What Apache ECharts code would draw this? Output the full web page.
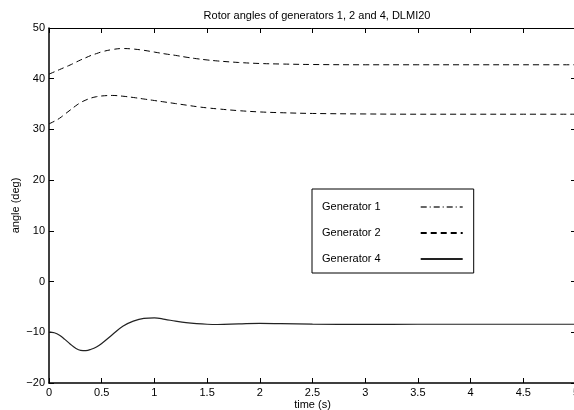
<!DOCTYPE html>
<html>
<head>
<meta charset="utf-8">
<script src="https://cdn.jsdelivr.net/npm/echarts@6/dist/echarts.min.js"></script>
<style>html,body{margin:0;padding:0;background:#fff;}#c{width:574px;height:410px;}</style>
</head>
<body>
<div id="c"></div>
<script>
var titleText = 'Rotor angles of generators 1, 2 and 4, DLMI20';
var xTicks = [0, 0.5, 1, 1.5, 2, 2.5, 3, 3.5, 4, 4.5, 5];
var yTicks = [-20, -10, 0, 10, 20, 30, 40, 50];
var time = [0, 0.05, 0.1, 0.15, 0.2, 0.25, 0.3, 0.35, 0.4, 0.45, 0.5, 0.6, 0.7, 0.8, 0.9, 1.0, 1.1, 1.2, 1.3, 1.4, 1.5, 1.6, 1.8, 2.0, 2.2, 2.5, 3, 3.5, 4, 4.5, 5];
var genUpper = [40.9, 41.35, 41.8, 42.25, 42.7, 43.2, 43.7, 44.15, 44.6, 44.95, 45.3, 45.75, 45.95, 45.85, 45.6, 45.25, 44.9, 44.6, 44.25, 43.95, 43.7, 43.5, 43.2, 43.0, 42.9, 42.8, 42.75, 42.75, 42.75, 42.75, 42.75];
var genLower = [31.1, 31.6, 32.2, 33.0, 33.8, 34.6, 35.3, 35.8, 36.2, 36.45, 36.6, 36.7, 36.55, 36.3, 36.0, 35.7, 35.4, 35.1, 34.8, 34.5, 34.25, 34.05, 33.7, 33.45, 33.3, 33.15, 33.05, 33.0, 33.0, 33.0, 33.0];
var gen4 = [-9.9, -10.1, -10.6, -11.4, -12.3, -13.1, -13.55, -13.6, -13.35, -12.9, -12.2, -10.5, -8.8, -7.8, -7.25, -7.15, -7.45, -7.8, -8.1, -8.3, -8.42, -8.46, -8.35, -8.25, -8.3, -8.4, -8.45, -8.42, -8.42, -8.42, -8.42];
var legendNames = ['Generator 1', 'Generator 2', 'Generator 4'];

function pairs(xs, ys) { return xs.map(function (x, i) { return [x, ys[i]]; }); }
var FONT = 'Liberation Sans';
function fmt(v) { return String(v).replace('-', '\u2212'); }

var chart = echarts.init(document.getElementById('c'), null, {renderer: 'canvas'});
var axisLine = {show: true, onZero: false, lineStyle: {color: '#000', width: 1.5}};
var axisLineThin = {show: true, onZero: false, lineStyle: {color: '#000', width: 1}};
var tick = {show: true, inside: true, length: 5, lineStyle: {color: '#000', width: 1}};
chart.setOption({
  animation: false,
  backgroundColor: '#fff',
  title: {
    text: titleText, left: 312, top: 5, textAlign: 'center',
    textStyle: {fontFamily: FONT, fontSize: 11, fontWeight: 'normal', color: '#000'}
  },
  grid: {left: 49, top: 28, width: 527, height: 355, containLabel: false, outerBoundsMode: 'none'},
  legend: {
    data: legendNames,
    orient: 'vertical', left: 312, top: 189, align: 'right',
    padding: [11, 10, 7, 10], itemGap: 12, itemWidth: 42, itemHeight: 14,
    backgroundColor: '#fff', borderColor: '#000', borderWidth: 1,
    itemStyle: {opacity: 0},
    textStyle: {fontFamily: FONT, fontSize: 11, color: '#000', padding: [0, 35, 0, 0], lineHeight: 14}
  },
  xAxis: [{
    type: 'value', min: xTicks[0], max: xTicks[xTicks.length - 1], interval: 0.5,
    position: 'bottom', axisLine: axisLine, axisTick: tick, splitLine: {show: false},
    axisLabel: {color: '#000', fontFamily: FONT, fontSize: 11, margin: 4, formatter: fmt},
    name: 'time (s)', nameLocation: 'middle', nameGap: 16, nameMoveOverlap: false,
    nameTextStyle: {fontFamily: FONT, fontSize: 11, color: '#000'}
  }, {
    type: 'value', min: xTicks[0], max: xTicks[xTicks.length - 1], interval: 0.5,
    position: 'top', axisLine: axisLineThin, axisTick: tick, splitLine: {show: false},
    axisLabel: {show: false}
  }],
  yAxis: [{
    type: 'value', min: yTicks[0], max: yTicks[yTicks.length - 1], interval: 10,
    position: 'left', axisLine: axisLine, axisTick: tick, splitLine: {show: false},
    axisLabel: {color: '#000', fontFamily: FONT, fontSize: 11, margin: 4, formatter: fmt},
    name: 'angle (deg)', nameLocation: 'middle', nameGap: 28, nameMoveOverlap: false,
    nameTextStyle: {fontFamily: FONT, fontSize: 11, color: '#000'}
  }, {
    type: 'value', min: yTicks[0], max: yTicks[yTicks.length - 1], interval: 10,
    position: 'right', axisLine: axisLineThin, axisTick: tick, splitLine: {show: false},
    axisLabel: {show: false}
  }],
  series: [
    {name: legendNames[0], type: 'line', data: [], symbol: 'none', lineStyle: {color: '#666', width: 1, type: [6, 3, 1, 3]}, itemStyle: {color: '#666'}},
    {name: legendNames[1], type: 'line', data: pairs(time, genUpper), smooth: 0.4, symbol: 'none', lineStyle: {color: '#000', width: 1, type: [6, 4]}, itemStyle: {color: '#000'}},
    {name: legendNames[1], type: 'line', data: pairs(time, genLower), smooth: 0.4, symbol: 'none', lineStyle: {color: '#000', width: 1, type: [6, 4]}, itemStyle: {color: '#000'}},
    {name: legendNames[2], type: 'line', data: pairs(time, gen4), smooth: 0.4, symbol: 'none', lineStyle: {color: '#222', width: 1.2}, itemStyle: {color: '#222'}}
  ]
});
</script>
</body>
</html>
